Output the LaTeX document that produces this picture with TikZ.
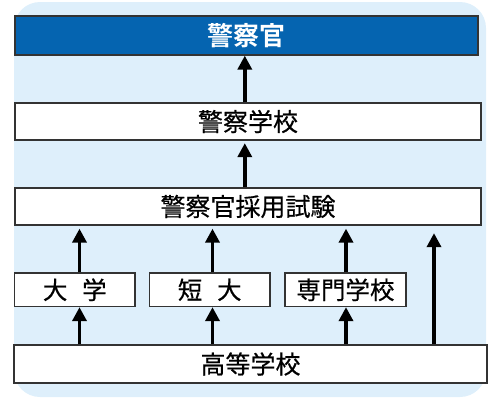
\documentclass[tikz,border=0pt]{standalone}
\usepackage{fontspec}
\newfontfamily\jpfont[FakeBold=0.5]{Noto Sans CJK JP}
\newfontfamily\jpboldfont{Noto Sans CJK JP Bold}
\usetikzlibrary{arrows.meta,calc}
\definecolor{bgblue}{HTML}{DEEFFB}
\definecolor{topblue}{HTML}{0564B0}
\definecolor{edgegray}{HTML}{333333}
\tikzset{
  boxbase/.style={draw=edgegray, line width=1.3pt, fill=white, rectangle, inner sep=0pt, font=\jpfont\fontsize{25}{28}\selectfont},
  topbox/.style={boxbase, fill=topblue, text=white, font=\jpboldfont\fontsize{26}{28}\selectfont},
  smallbox/.style={boxbase, font=\jpfont\fontsize{24.5}{27}\selectfont},
  uparrow/.style={line width=3.5pt, -{Triangle[width=14pt,length=14pt]}},
}
\begin{document}
\begin{tikzpicture}[x=1pt,y=-1pt]
\useasboundingbox (0,0) rectangle (500,400);
\fill[bgblue, rounded corners=26pt] (14,2) rectangle (486,397);
\node[topbox, minimum width=463pt, minimum height=39pt] (police) at (246.5,35.5) {警察官};
\node[boxbase, minimum width=466pt, minimum height=37pt] (academy) at (248,121.5) {警察学校};
\node[boxbase, minimum width=466pt, minimum height=37pt] (exam) at (248,206.5) {警察官採用試験};
\node[smallbox, minimum width=120.5pt, minimum height=33.5pt] (univ) at (74.75,289.75) {大\hspace{0.6em}学};
\node[smallbox, minimum width=120.5pt, minimum height=33.5pt] (junior) at (209.75,289.75) {短\hspace{0.6em}大};
\node[smallbox, minimum width=121pt, minimum height=33.5pt] (voc) at (345.5,289.75) {専門学校};
\node[boxbase, minimum width=473pt, minimum height=38pt] (high) at (250.5,364) {高等学校};
\coordinate (cx0) at (244.8,0);
\coordinate (cx1) at (79.5,0);
\coordinate (cx2) at (212.5,0);
\coordinate (cx3) at (346,0);
\coordinate (cx4) at (434,0);
\draw[uparrow] (cx0 |- academy.north) -- (cx0 |- police.south);
\draw[uparrow, shorten >=2.5pt] (cx0 |- exam.north) -- (cx0 |- academy.south);
\draw[uparrow, shorten >=3pt] (cx1 |- univ.north) -- (cx1 |- exam.south);
\draw[uparrow, shorten >=3pt] (cx2 |- junior.north) -- (cx2 |- exam.south);
\draw[uparrow, shorten >=3pt] (cx3 |- voc.north) -- (cx3 |- exam.south);
\draw[uparrow, shorten >=7.5pt] (cx4 |- high.north) -- (cx4 |- exam.south);
\draw[uparrow] (cx1 |- high.north) -- (cx1 |- univ.south);
\draw[uparrow] (cx2 |- high.north) -- (cx2 |- junior.south);
\draw[uparrow] (cx3 |- high.north) -- (cx3 |- voc.south);
\end{tikzpicture}
\end{document}
